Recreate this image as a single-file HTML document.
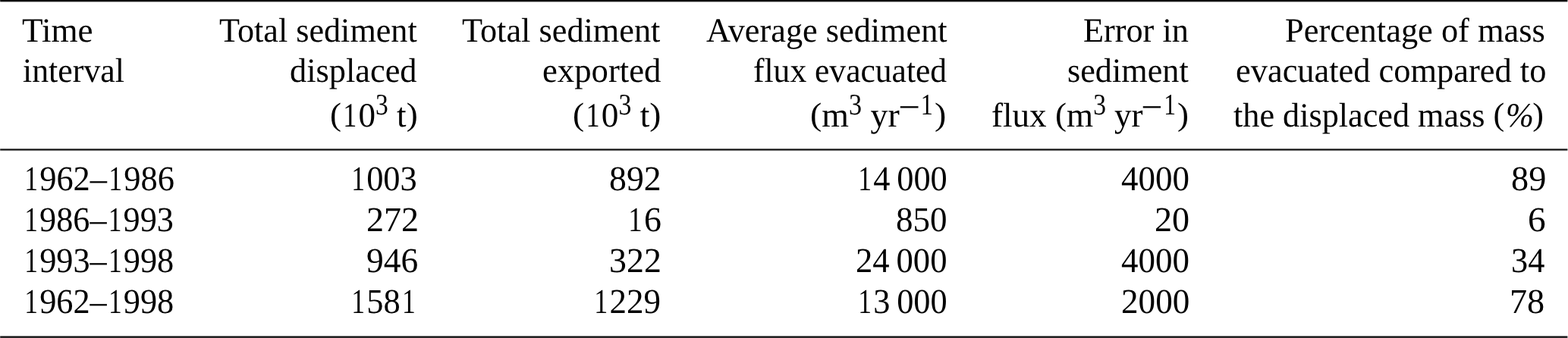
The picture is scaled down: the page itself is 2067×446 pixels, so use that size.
<!DOCTYPE html>
<html><head><meta charset="utf-8"><title>Sediment table</title>
<style>
html,body{margin:0;padding:0;background:#fff;}
body{width:2067px;height:446px;position:relative;overflow:hidden;
font-family:"Liberation Serif","Times New Roman",serif;color:#000;text-rendering:geometricPrecision;}
.l{position:absolute;white-space:nowrap;line-height:1;transform-origin:0 0;}
.s{font-size:0.875em;position:relative;top:-0.4127em;line-height:0;}
.s3{font-size:0.875em;position:relative;top:-0.4127em;line-height:0;display:inline-block;transform:scaleX(0.85);transform-origin:0 0;margin-right:-0.075em;}
.mn{display:inline-block;transform:scale(1.27,1.2);transform-origin:0 50%;position:relative;top:0.085em;margin-left:-0.045em;margin-right:0.13em;}
.p{display:inline-block;transform:scaleY(0.942);transform-origin:50% 0.145em;}
.pc{display:inline-block;transform:skewX(-9deg);transform-origin:50% 70%;}
.o{display:inline-block;transform:scaleX(0.8);}
.rule{position:absolute;left:1px;width:2065px;height:1px;}
.rp{position:absolute;width:1px;height:1px;}
</style></head><body>
<div class="rule" style="top:0px;background:rgb(0,0,0)"></div>
<div class="rp" style="top:0px;left:0;background:rgb(56,56,56)"></div>
<div class="rp" style="top:0px;left:2066px;background:rgb(158,158,158)"></div>
<div class="rule" style="top:1px;background:rgb(10,10,10)"></div>
<div class="rp" style="top:1px;left:0;background:rgb(64,64,64)"></div>
<div class="rp" style="top:1px;left:2066px;background:rgb(162,162,162)"></div>
<div class="rule" style="top:2px;background:rgb(180,180,180)"></div>
<div class="rp" style="top:2px;left:0;background:rgb(196,196,196)"></div>
<div class="rp" style="top:2px;left:2066px;background:rgb(227,227,227)"></div>
<div class="rule" style="top:3px;background:rgb(246,246,246)"></div>
<div class="rp" style="top:3px;left:0;background:rgb(248,248,248)"></div>
<div class="rp" style="top:3px;left:2066px;background:rgb(252,252,252)"></div>
<div class="rule" style="top:195px;background:rgb(236,236,236)"></div>
<div class="rp" style="top:195px;left:0;background:rgb(240,240,240)"></div>
<div class="rp" style="top:195px;left:2066px;background:rgb(248,248,248)"></div>
<div class="rule" style="top:196px;background:rgb(120,120,120)"></div>
<div class="rp" style="top:196px;left:0;background:rgb(150,150,150)"></div>
<div class="rp" style="top:196px;left:2066px;background:rgb(204,204,204)"></div>
<div class="rule" style="top:197px;background:rgb(0,0,0)"></div>
<div class="rp" style="top:197px;left:0;background:rgb(56,56,56)"></div>
<div class="rp" style="top:197px;left:2066px;background:rgb(158,158,158)"></div>
<div class="rule" style="top:198px;background:rgb(125,125,125)"></div>
<div class="rp" style="top:198px;left:0;background:rgb(154,154,154)"></div>
<div class="rp" style="top:198px;left:2066px;background:rgb(206,206,206)"></div>
<div class="rule" style="top:199px;background:rgb(240,240,240)"></div>
<div class="rp" style="top:199px;left:0;background:rgb(243,243,243)"></div>
<div class="rp" style="top:199px;left:2066px;background:rgb(249,249,249)"></div>
<div class="rule" style="top:442px;background:rgb(246,246,246)"></div>
<div class="rp" style="top:442px;left:0;background:rgb(248,248,248)"></div>
<div class="rp" style="top:442px;left:2066px;background:rgb(252,252,252)"></div>
<div class="rule" style="top:443px;background:rgb(145,145,145)"></div>
<div class="rp" style="top:443px;left:0;background:rgb(169,169,169)"></div>
<div class="rp" style="top:443px;left:2066px;background:rgb(213,213,213)"></div>
<div class="rule" style="top:444px;background:rgb(0,0,0)"></div>
<div class="rp" style="top:444px;left:0;background:rgb(56,56,56)"></div>
<div class="rp" style="top:444px;left:2066px;background:rgb(158,158,158)"></div>
<div class="rule" style="top:445px;background:rgb(62,62,62)"></div>
<div class="rp" style="top:445px;left:0;background:rgb(104,104,104)"></div>
<div class="rp" style="top:445px;left:2066px;background:rgb(182,182,182)"></div>
<div class="l" style="left:28.86px;top:17.61px;font-size:45.0px;transform:scaleX(1.0028);">Time</div>
<div class="l" style="left:29.50px;top:71.11px;font-size:45.0px;transform:scaleX(0.9747);">interval</div>
<div class="l" style="left:288.61px;top:17.61px;font-size:45.0px;transform:scaleX(0.9819);">Total sediment</div>
<div class="l" style="left:382.30px;top:71.11px;font-size:45.0px;transform:scaleX(0.9858);">displaced</div>
<div class="l" style="left:434.93px;top:129.91px;font-size:45.0px;transform:scaleX(1.0013);"><span class="p">(</span><span class="o">1</span>0<span class="s3">3</span> t<span class="p">)</span></div>
<div class="l" style="left:608.81px;top:17.61px;font-size:45.0px;transform:scaleX(0.9845);">Total sediment</div>
<div class="l" style="left:715.33px;top:71.11px;font-size:45.0px;transform:scaleX(0.9934);">exported</div>
<div class="l" style="left:755.22px;top:129.91px;font-size:45.0px;transform:scaleX(1.0073);"><span class="p">(</span><span class="o">1</span>0<span class="s3">3</span> t<span class="p">)</span></div>
<div class="l" style="left:930.57px;top:17.61px;font-size:45.0px;transform:scaleX(0.9842);">Average sediment</div>
<div class="l" style="left:993.26px;top:71.11px;font-size:45.0px;transform:scaleX(0.9678);">flux evacuated</div>
<div class="l" style="left:1067.61px;top:129.91px;font-size:45.0px;transform:scaleX(1.0200);"><span class="p">(</span>m<span class="s3">3</span> yr<span class="s"><span class="mn">&minus;</span><span class="o">1</span></span><span class="p">)</span></div>
<div class="l" style="left:1428.22px;top:17.61px;font-size:45.0px;transform:scaleX(0.9830);">Error in</div>
<div class="l" style="left:1407.11px;top:71.11px;font-size:45.0px;transform:scaleX(0.9829);">sediment</div>
<div class="l" style="left:1306.81px;top:129.91px;font-size:45.0px;transform:scaleX(1.0017);">flux <span class="p">(</span>m<span class="s3">3</span> yr<span class="s"><span class="mn">&minus;</span><span class="o">1</span></span><span class="p">)</span></div>
<div class="l" style="left:1693.91px;top:17.61px;font-size:45.0px;transform:scaleX(0.9869);">Percentage of mass</div>
<div class="l" style="left:1628.86px;top:71.11px;font-size:45.0px;transform:scaleX(0.9869);">evacuated compared to</div>
<div class="l" style="left:1626.40px;top:129.91px;font-size:45.0px;transform:scaleX(0.9826);">the displaced mass <span class="p">(</span><span class="pc">%</span><span class="p">)</span></div>
<div class="l" style="left:30.07px;top:212.81px;font-size:46.0px;transform:scaleX(0.9655);"><span class="o">1</span>962&ndash;<span class="o">1</span>986</div>
<div class="l" style="left:461.09px;top:212.81px;font-size:46.0px;transform:scaleX(0.9645);"><span class="o">1</span>003</div>
<div class="l" style="left:803.40px;top:212.81px;font-size:46.0px;transform:scaleX(0.9946);">892</div>
<div class="l" style="left:1128.95px;top:212.81px;font-size:46.0px;transform:scaleX(0.9639);"><span class="o">1</span>4&#8201;000</div>
<div class="l" style="left:1477.78px;top:212.81px;font-size:46.0px;transform:scaleX(0.9773);">4000</div>
<div class="l" style="left:1991.77px;top:212.81px;font-size:46.0px;transform:scaleX(1.0061);">89</div>
<div class="l" style="left:29.62px;top:267.01px;font-size:46.0px;transform:scaleX(0.9608);"><span class="o">1</span>986&ndash;<span class="o">1</span>993</div>
<div class="l" style="left:482.70px;top:267.01px;font-size:46.0px;transform:scaleX(1.0022);">272</div>
<div class="l" style="left:825.94px;top:267.01px;font-size:46.0px;transform:scaleX(0.9976);"><span class="o">1</span>6</div>
<div class="l" style="left:1180.62px;top:267.01px;font-size:46.0px;transform:scaleX(0.9783);">850</div>
<div class="l" style="left:1521.56px;top:267.01px;font-size:46.0px;transform:scaleX(1.0022);">20</div>
<div class="l" style="left:2014.04px;top:267.01px;font-size:46.0px;transform:scaleX(1.0297);">6</div>
<div class="l" style="left:29.58px;top:321.21px;font-size:46.0px;transform:scaleX(0.9626);"><span class="o">1</span>993&ndash;<span class="o">1</span>998</div>
<div class="l" style="left:482.85px;top:321.21px;font-size:46.0px;transform:scaleX(0.9882);">946</div>
<div class="l" style="left:803.08px;top:321.21px;font-size:46.0px;transform:scaleX(0.9982);">322</div>
<div class="l" style="left:1128.29px;top:321.21px;font-size:46.0px;transform:scaleX(0.9699);">24&#8201;000</div>
<div class="l" style="left:1477.78px;top:321.21px;font-size:46.0px;transform:scaleX(0.9773);">4000</div>
<div class="l" style="left:1991.91px;top:321.21px;font-size:46.0px;transform:scaleX(0.9635);">34</div>
<div class="l" style="left:29.58px;top:375.31px;font-size:46.0px;transform:scaleX(0.9626);"><span class="o">1</span>962&ndash;<span class="o">1</span>998</div>
<div class="l" style="left:460.73px;top:375.31px;font-size:46.0px;transform:scaleX(0.9662);"><span class="o">1</span>58<span class="o">1</span></div>
<div class="l" style="left:780.88px;top:375.31px;font-size:46.0px;transform:scaleX(0.9774);"><span class="o">1</span>229</div>
<div class="l" style="left:1128.50px;top:375.31px;font-size:46.0px;transform:scaleX(0.9631);"><span class="o">1</span>3&#8201;000</div>
<div class="l" style="left:1477.76px;top:375.31px;font-size:46.0px;transform:scaleX(0.9810);">2000</div>
<div class="l" style="left:1990.48px;top:375.31px;font-size:46.0px;transform:scaleX(1.0053);">78</div>
</body></html>
